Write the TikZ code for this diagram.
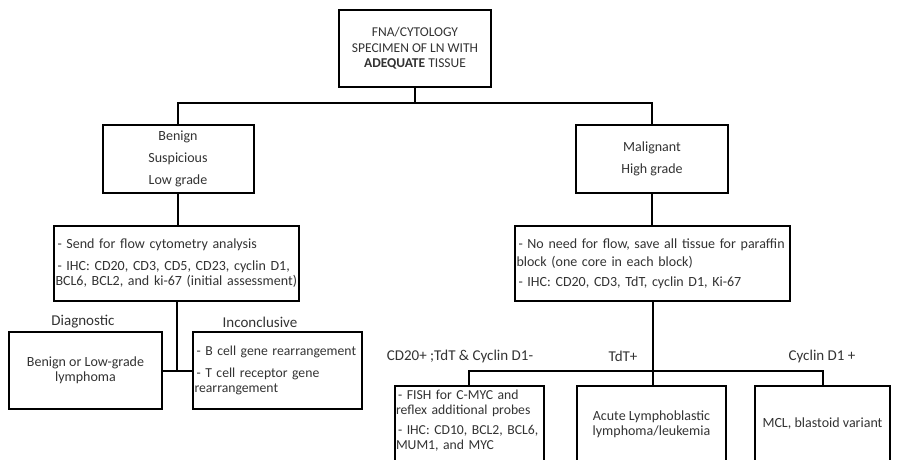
\documentclass[tikz,border=0pt]{standalone}
\usepackage{fontspec}
\setmainfont{Carlito}
\newcommand{\itm}{\hspace*{2pt}- }

\begin{document}
\begin{tikzpicture}[x=1pt,y=-1pt,line width=2pt,
  box/.style={draw,fill=white,inner sep=1.5pt,text=black!80,font=\fontsize{14}{15}\selectfont},
  small/.style={font=\fontsize{13.7}{15}\selectfont},
  lbl/.style={text=black!80,font=\fontsize{15}{16}\selectfont}]
  \path[use as bounding box,clip] (0,0) rectangle (897,460);
  % muestra
  \node[box,minimum width=152pt,minimum height=77pt,align=center,font=\fontsize{13.5}{15.5}\selectfont] (fna) at (415,48.5)
    {FNA/CYTOLOGY\\SPECIMEN OF LN WITH\\\textbf{ADEQUATE} TISSUE};
  % categorias
  \node[box,minimum width=151pt,minimum height=68pt,align=center] (benign) at (178,159)
    {Benign\\[7pt]Suspicious\\[7pt]Low grade};
  \node[box,minimum width=152pt,minimum height=68pt,align=center] (malig) at (652,159)
    {Malignant\\[7pt]High grade};
  % estudios
  \node[box,text width=242pt,minimum height=75pt,align=left] (flowL) at (176.5,263.5)
    {\itm Send for flow cytometry analysis\\[7pt]\itm IHC: CD20, CD3, CD5, CD23, cyclin D1,\\BCL6, BCL2, and ki-67 (initial assessment)};
  \node[box,text width=272pt,minimum height=75pt,align=left] (flowR) at (652.5,263.5)
    {\itm No need for flow, save all tissue for paraffin\\[3pt]block (one core in each block)\\[5pt]\itm IHC: CD20, CD3, TdT, cyclin D1, Ki-67};
  % resultados benignos
  \node[box,minimum width=153pt,minimum height=77pt,align=center] (diag) at (85.5,370.5)
    {Benign or Low-grade\\lymphoma};
  \node[box,small,text width=166pt,minimum height=77pt,align=left] (incon) at (277.5,370.5)
    {\itm B cell gene rearrangement\\[7pt]\itm T cell receptor gene\\rearrangement};
  \node[lbl] (lblDiag) at (83,322) {Diagnostic};
  \node[lbl] (lblIncon) at (260,322) {Inconclusive};
  % resultados malignos
  \node[box,small,text width=146pt,minimum height=76pt,align=left] (fish) at (469,424)
    {\itm FISH for C-MYC and\\reflex additional probes\\[5pt]\itm IHC: CD10, BCL2, BCL6,\\MUM1, and MYC\rule[-8pt]{0pt}{0pt}};
  \node[box,minimum width=149pt,minimum height=76pt,align=center] (all) at (651.5,424)
    {Acute Lymphoblastic\\lymphoma/leukemia};
  \node[box,minimum width=135pt,minimum height=76pt,align=center] (mcl) at (822.5,424)
    {MCL, blastoid variant};
  \node[lbl] (lblCD) at (460,356) {CD20+ ;TdT \& Cyclin D1-};
  \node[lbl] (lblTdT) at (623,356) {TdT+};
  \node[lbl] (lblCyc) at (822,356) {Cyclin D1 +};
  % conectores
  \draw (fna.south) -- ++(0,15) coordinate (split);
  \draw (benign.north) |- (split) -| (malig.north);
  \draw (benign.south) -- (benign.south |- flowL.north);
  \draw (malig.south) -- (malig.south |- flowR.north);
  \draw (flowL.south) -- (flowL.south |- diag.east);
  \draw (diag.east) -- (incon.west);
  \coordinate (fork) at (flowR.south |- 0,371);
  \draw (flowR.south) -- (flowR.south |- all.north);
  \draw (fish.north) |- (fork) -| (mcl.north);
\end{tikzpicture}
\end{document}
